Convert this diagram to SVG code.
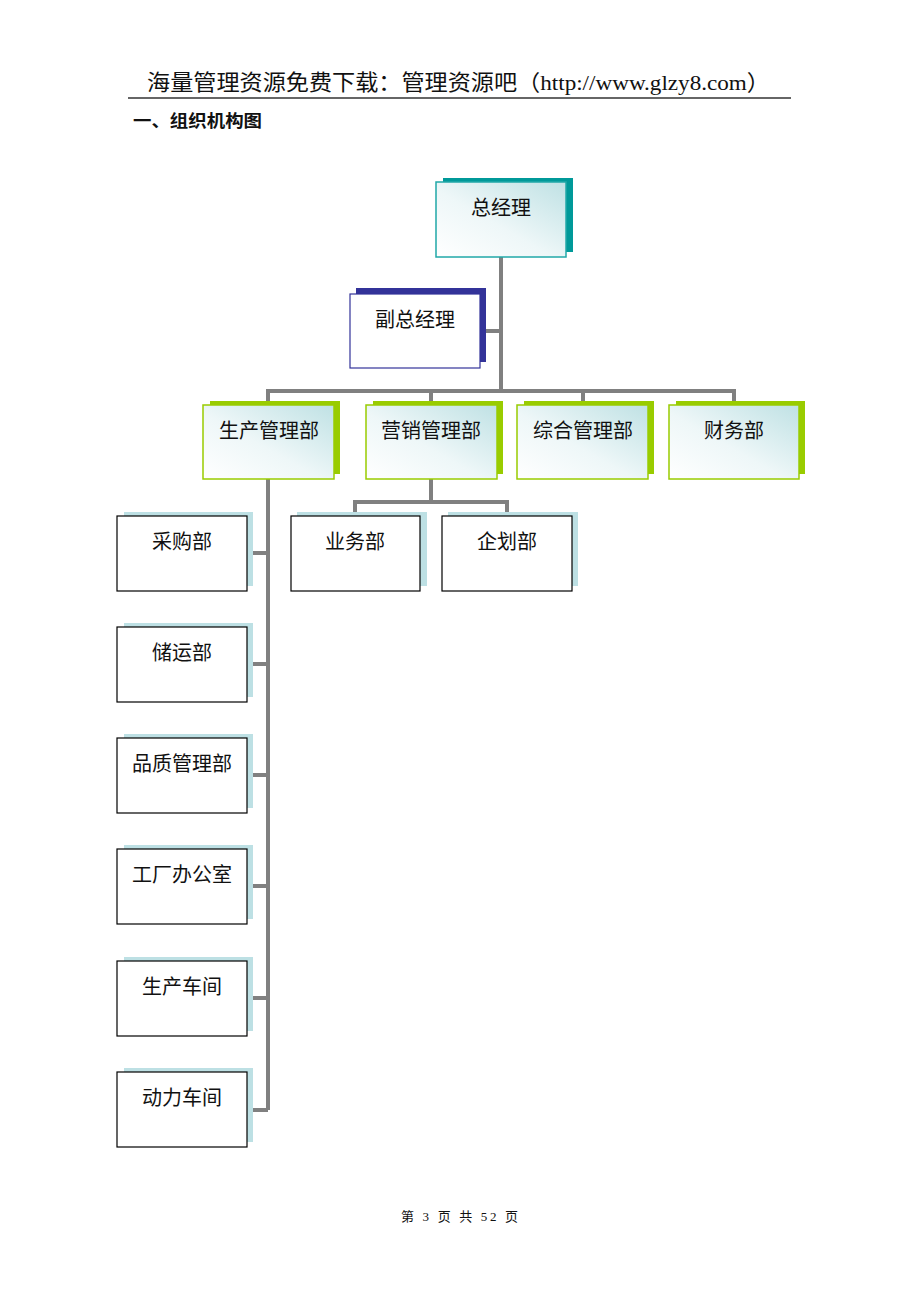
<svg xmlns="http://www.w3.org/2000/svg" width="920" height="1302" viewBox="0 0 920 1302">
<style>
text{font-family:"Liberation Serif","Noto Sans CJK SC",serif;fill:#111}
.lbl{font-size:20px;text-anchor:middle}
.conn{stroke:#808080;stroke-width:4;fill:none}
.front{fill:url(#g)}
.sT{fill:#009999}
.sN{fill:#333399}
.sG{fill:#99cc00}
.sB{fill:#bde0e4}
.bT{stroke:#20a8a8;stroke-width:1.5}
.bN{fill:#fff;stroke:#333399;stroke-width:1.2}
.bG{stroke:#99cc00;stroke-width:1.5}
.bK{fill:#fff;stroke:#000;stroke-width:1.2}
</style>
<defs>
<linearGradient id="g" x1="0" y1="1" x2="1" y2="0">
<stop offset="0" stop-color="#ffffff"/>
<stop offset="0.45" stop-color="#eef7f8"/>
<stop offset="1" stop-color="#bfe1e4"/>
</linearGradient>
</defs>
<rect width="920" height="1302" fill="#fff"/>
<g id="header">
<text x="147" y="90" font-size="22" textLength="623" lengthAdjust="spacingAndGlyphs">海量管理资源免费下载：管理资源吧（http://www.glzy8.com）</text>
<line x1="128" y1="98" x2="791" y2="98" stroke="#333" stroke-width="1.5"/>
<text x="133" y="127" font-size="17" font-weight="bold" textLength="129" lengthAdjust="spacingAndGlyphs" style="font-family:'Noto Sans CJK SC',sans-serif">一、组织机构图</text>
</g>
<g id="connectors">
<path class="conn" d="M501 257V391M486 331H501M268 391H734M268 389V405M431 389V405M583 389V405M734 389V405"/>
<path class="conn" d="M268 479V1110M253 553H268M253 664H268M253 775H268M253 886H268M253 998H268M253 1110H268"/>
<path class="conn" d="M431 479V502M355 502H507M355 500V514M507 500V514"/>
</g>
<g id="n-zjl"><rect class="sT" x="443" y="178" width="130" height="74"/><rect class="front bT" x="436" y="182" width="130" height="75"/><text class="lbl" x="501" y="215">总经理</text></g>
<g id="n-fzjl"><rect class="sN" x="356" y="288" width="130" height="74"/><rect class="bN" x="350" y="294" width="130" height="74"/><text class="lbl" x="415" y="327">副总经理</text></g>
<g id="n-sc"><rect class="sG" x="210" y="401" width="130" height="73"/><rect class="front bG" x="203" y="405" width="131" height="74"/><text class="lbl" x="269" y="438">生产管理部</text></g>
<g id="n-yx"><rect class="sG" x="373" y="401" width="130" height="73"/><rect class="front bG" x="366" y="405" width="131" height="74"/><text class="lbl" x="431" y="438">营销管理部</text></g>
<g id="n-zh"><rect class="sG" x="524" y="401" width="130" height="73"/><rect class="front bG" x="517" y="405" width="131" height="74"/><text class="lbl" x="583" y="438">综合管理部</text></g>
<g id="n-cw"><rect class="sG" x="676" y="401" width="129" height="73"/><rect class="front bG" x="669" y="405" width="130" height="74"/><text class="lbl" x="734" y="438">财务部</text></g>
<g id="n-yw"><rect class="sB" x="297" y="512" width="130" height="74"/><rect class="bK" x="291" y="516" width="129" height="75"/><text class="lbl" x="355" y="549">业务部</text></g>
<g id="n-qh"><rect class="sB" x="448" y="512" width="130" height="74"/><rect class="bK" x="442" y="516" width="130" height="75"/><text class="lbl" x="507" y="549">企划部</text></g>
<g id="n-cg"><rect class="sB" x="124" y="512" width="129" height="74"/><rect class="bK" x="117" y="516" width="130" height="75"/><text class="lbl" x="182" y="549">采购部</text></g>
<g id="n-cy"><rect class="sB" x="124" y="623" width="129" height="74"/><rect class="bK" x="117" y="627" width="130" height="75"/><text class="lbl" x="182" y="660">储运部</text></g>
<g id="n-pz"><rect class="sB" x="124" y="734" width="129" height="74"/><rect class="bK" x="117" y="738" width="130" height="75"/><text class="lbl" x="182" y="771">品质管理部</text></g>
<g id="n-gc"><rect class="sB" x="124" y="845" width="129" height="74"/><rect class="bK" x="117" y="849" width="130" height="75"/><text class="lbl" x="182" y="882">工厂办公室</text></g>
<g id="n-scj"><rect class="sB" x="124" y="957" width="129" height="74"/><rect class="bK" x="117" y="961" width="130" height="75"/><text class="lbl" x="182" y="994">生产车间</text></g>
<g id="n-dl"><rect class="sB" x="124" y="1068" width="129" height="74"/><rect class="bK" x="117" y="1072" width="130" height="75"/><text class="lbl" x="182" y="1105">动力车间</text></g>
<g id="footer"><text x="401" y="1221" font-size="13" textLength="117" lengthAdjust="spacing" xml:space="preserve">第 3 页 共 52 页</text></g>
</svg>
